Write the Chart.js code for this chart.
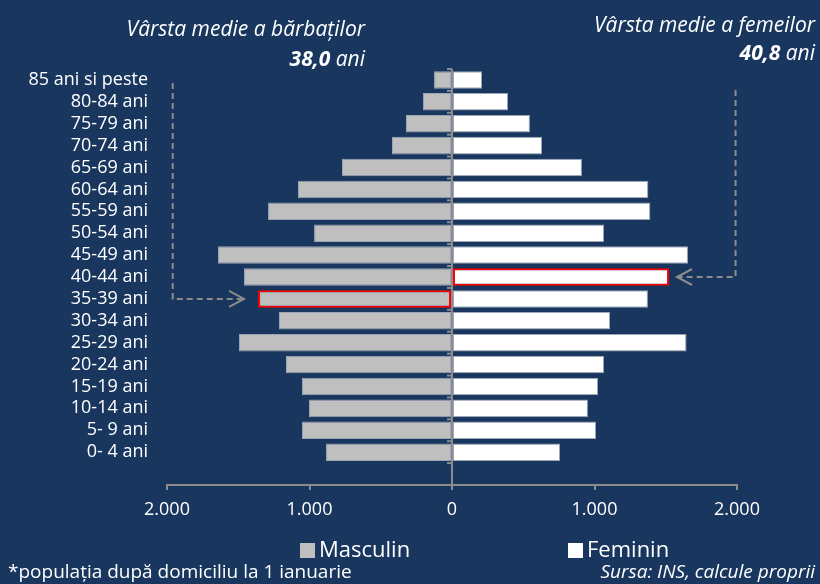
<!DOCTYPE html>
<html lang="ro">
<head>
<meta charset="UTF-8">
<title>Piramida varstelor</title>
<script src="https://cdn.jsdelivr.net/npm/chart.js"></script>
<style>
    * { margin: 0; padding: 0; box-sizing: border-box; }
    body { background: #18365e; font-family: 'Open Sans', sans-serif; color: #fff; }
    .wrap { position: relative; width: 820px; height: 584px; overflow: hidden; }
    canvas { position: absolute; left: 0; top: 0; }
    .note { position: absolute; white-space: nowrap; font-size: 21px; font-style: italic; line-height: 28px; }
    .note b { font-weight: 700; }
    .legend { position: absolute; font-size: 22px; white-space: nowrap; line-height: 30px; }
    .legend span.box { display: inline-block; width: 15px; height: 15px; margin-right: 4px; vertical-align: -1px; }
    .foot { position: absolute; font-size: 19px; white-space: nowrap; line-height: 24px; }
</style>
</head>
<body>
<div class="wrap">
    <canvas id="pyramid" width="820" height="584"></canvas>

    <div class="note" style="right:455px; top:14px;">Vârsta medie a bărbaţilor</div>
    <div class="note" style="right:455px; top:44px;"><b>38,0</b> ani</div>
    <div class="note" style="right:5px; top:10px;">Vârsta medie a femeilor</div>
    <div class="note" style="right:5px; top:38px;"><b>40,8</b> ani</div>

    <div class="legend" style="left:300px; top:533px;"><span class="box" style="background:#bfbfbf"></span>Masculin</div>
    <div class="legend" style="left:568px; top:533px;"><span class="box" style="background:#ffffff"></span>Feminin</div>

    <div class="foot" style="left:8px; top:559px;">*populaţia după domiciliu la 1 ianuarie</div>
    <div class="foot" style="right:5px; top:559px; font-style:italic;">Sursa: INS, calcule proprii</div>
</div>

<script>
    // grupe de varsta, de sus in jos
    const ageGroups = ['85 ani si peste', '80-84 ani', '75-79 ani', '70-74 ani', '65-69 ani', '60-64 ani',
        '55-59 ani', '50-54 ani', '45-49 ani', '40-44 ani', '35-39 ani', '30-34 ani', '25-29 ani',
        '20-24 ani', '15-19 ani', '10-14 ani', '5- 9 ani', '0- 4 ani'];

    // mii persoane
    const males = [126, 204, 323, 421, 772, 1081, 1291, 968, 1642, 1460, 1361, 1214, 1495, 1165, 1053, 1004, 1053, 884];
    const females = [211, 393, 547, 632, 912, 1378, 1392, 1067, 1656, 1523, 1375, 1109, 1646, 1067, 1025, 954, 1011, 758];

    const xTicks = [-2000, -1000, 0, 1000, 2000];

    // grupa varstei medii
    const maleMedianIdx = ageGroups.indexOf('35-39 ani');
    const femaleMedianIdx = ageGroups.indexOf('40-44 ani');

    const axisGray = '#8c8c8c';

    function fmt(v) {
        return Math.abs(v).toString().replace(/\B(?=(\d{3})+(?!\d))/g, '.');
    }

    // liniute mici pe axa centrala + sagetile punctate
    const extras = {
        id: 'extras',
        afterDatasetsDraw(chart) {
            const { ctx, scales: { x, y } } = chart;
            const x0 = x.getPixelForValue(0);
            const step = y.getPixelForValue(1) - y.getPixelForValue(0);
            ctx.save();
            ctx.strokeStyle = axisGray;
            ctx.lineWidth = 2;
            for (let i = 0; i <= ageGroups.length; i++) {
                const yy = y.getPixelForValue(i) - step / 2;
                ctx.beginPath();
                ctx.moveTo(x0 - 5, yy);
                ctx.lineTo(x0, yy);
                ctx.stroke();
            }

            ctx.setLineDash([6, 4]);
            // stanga - barbati
            const ly = y.getPixelForValue(maleMedianIdx);
            const lx = x.getPixelForValue(-1960);
            const ltip = x.getPixelForValue(-males[maleMedianIdx]) - 14;
            ctx.beginPath();
            ctx.moveTo(lx, y.getPixelForValue(0) + 3);
            ctx.lineTo(lx, ly);
            ctx.lineTo(ltip, ly);
            ctx.stroke();
            // dreapta - femei
            const ry = y.getPixelForValue(femaleMedianIdx);
            const rx = x.getPixelForValue(1990);
            const rtip = x.getPixelForValue(females[femaleMedianIdx]) + 8;
            ctx.beginPath();
            ctx.moveTo(rx, y.getPixelForValue(0) + 10);
            ctx.lineTo(rx, ry);
            ctx.lineTo(rtip, ry);
            ctx.stroke();

            ctx.setLineDash([]);
            ctx.beginPath();
            ctx.moveTo(ltip - 15, ly - 8);
            ctx.lineTo(ltip, ly);
            ctx.lineTo(ltip - 15, ly + 8);
            ctx.moveTo(rtip + 15, ry - 8);
            ctx.lineTo(rtip, ry);
            ctx.lineTo(rtip + 15, ry + 8);
            ctx.stroke();
            ctx.restore();
        }
    };

    new Chart(document.getElementById('pyramid'), {
        type: 'bar',
        data: {
            labels: [...ageGroups, ''],
            datasets: [{
                label: 'Masculin',
                data: males.map(v => -v),
                backgroundColor: '#bfbfbf',
                borderColor: ctx => ctx.dataIndex === maleMedianIdx ? '#ff0000' : '#9aa6b8',
                borderWidth: ctx => ctx.dataIndex === maleMedianIdx ? 2 : 1,
                borderSkipped: false
            }, {
                label: 'Feminin',
                data: females,
                backgroundColor: '#ffffff',
                borderColor: ctx => ctx.dataIndex === femaleMedianIdx ? '#ff0000' : '#9aa6b8',
                borderWidth: ctx => ctx.dataIndex === femaleMedianIdx ? 2 : 1,
                borderSkipped: false
            }]
        },
        options: {
            indexAxis: 'y',
            responsive: false,
            animation: false,
            layout: { padding: { top: 69, right: 83, left: 0, bottom: 0 } },
            datasets: { bar: { categoryPercentage: 1, barPercentage: 0.8 } },
            plugins: { legend: { display: false }, tooltip: { enabled: false } },
            scales: {
                x: {
                    stacked: true,
                    min: -2000,
                    max: 2000,
                    afterBuildTicks: s => { s.ticks = xTicks.map(v => ({ value: v })); },
                    afterFit: s => { s.height = 99; },
                    border: { color: axisGray, width: 2 },
                    grid: {
                        color: c => c.tick && c.tick.value === 0 ? axisGray : 'transparent',
                        lineWidth: 2,
                        tickColor: axisGray,
                        tickLength: 5
                    },
                    ticks: {
                        color: '#ffffff',
                        font: { family: 'Open Sans', size: 18 },
                        padding: 9,
                        callback: v => fmt(v)
                    }
                },
                y: {
                    stacked: true,
                    afterFit: s => { s.width = 167; },
                    grid: { display: false },
                    border: { display: false },
                    ticks: {
                        color: '#ffffff',
                        font: { family: 'Open Sans', size: 18 },
                        padding: 11,
                        autoSkip: false
                    }
                }
            }
        },
        plugins: [extras]
    });
</script>
</body>
</html>
